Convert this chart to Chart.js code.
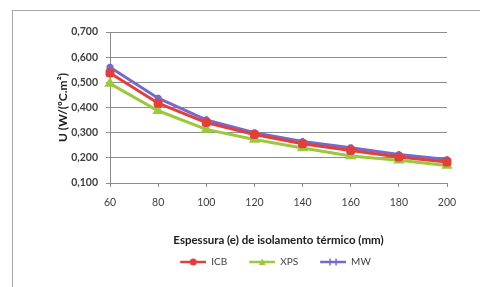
<!DOCTYPE html>
<html>
<head>
<meta charset="utf-8">
<script src="https://cdn.jsdelivr.net/npm/chart.js@4.4.1/dist/chart.umd.min.js"></script>
<style>
  html, body { margin: 0; padding: 0; background: #fff; }
  #wrap { position: relative; width: 480px; height: 287px; overflow: hidden; }
  #frame { position: absolute; left: 12px; top: 10px; width: 500px; height: 300px; border-top: 1px solid #a6a6a6; border-left: 1px solid #a6a6a6; }
  canvas { position: absolute; left: 0; top: 0; }
</style>
</head>
<body>
<div id="wrap">
  <div id="frame"></div>
  <canvas id="c" width="480" height="287"></canvas>
</div>
<script>
// espessura (mm)
const thickness = ['60', '80', '100', '120', '140', '160', '180', '200'];
const icb = [0.537, 0.417, 0.340, 0.293, 0.256, 0.229, 0.203, 0.183];
const xps = [0.495, 0.387, 0.313, 0.273, 0.239, 0.207, 0.190, 0.170];
const mw  = [0.560, 0.437, 0.351, 0.300, 0.265, 0.240, 0.213, 0.193];
const yTicks = [0.1, 0.2, 0.3, 0.4, 0.5, 0.6, 0.7];

const FONT = 'Lato, "Open Sans", sans-serif';
const RED = '#e0403c', GREEN = '#9cc83c', PURPLE = '#7a68c8';

// legend swatch: small blank gap on the left, then line + marker (excel style)
function legendIcon(color, style) {
  const cv = document.createElement('canvas');
  cv.width = 38; cv.height = 10;
  const g = cv.getContext('2d');
  g.strokeStyle = color; g.lineWidth = 2.5;
  g.beginPath(); g.moveTo(12, 5); g.lineTo(38, 5); g.stroke();
  g.fillStyle = color; g.lineWidth = 1.5;
  const cx = 25;
  if (style === 'rect') { g.beginPath(); g.arc(cx, 5, 3.5, 0, Math.PI * 2); g.fill(); }
  else if (style === 'triangle') { g.beginPath(); g.moveTo(cx, 1.5); g.lineTo(cx + 3.5, 8); g.lineTo(cx - 3.5, 8); g.closePath(); g.fill(); }
  else { g.beginPath(); g.moveTo(cx - 3, 1.5); g.lineTo(cx - 3, 8.5); g.moveTo(cx + 3, 1.5); g.lineTo(cx + 3, 8.5); g.stroke(); }
  return cv;
}

const series = [
  { label: 'ICB', data: icb, color: RED, marker: 'rectRounded', icon: 'rect' },
  { label: 'XPS', data: xps, color: GREEN, marker: 'triangle', icon: 'triangle' },
  { label: 'MW', data: mw, color: PURPLE, marker: 'star', icon: 'star' }
];

const shiftLegend = {
  id: 'shiftLegend',
  afterLayout: c => { c.legend.left += 24; c.legend.right += 24; }
};

new Chart(document.getElementById('c'), {
  type: 'line',
  data: {
    labels: thickness,
    datasets: series.map(s => ({
      label: s.label, data: s.data,
      borderColor: s.color, backgroundColor: s.color,
      borderWidth: 3, pointStyle: s.marker, pointRadius: 3.5,
      pointBorderColor: s.color, pointBackgroundColor: s.color,
      tension: 0
    }))
  },
  plugins: [shiftLegend],
  options: {
    responsive: false, animation: false,
    layout: { padding: { left: 44, right: 33, top: 32, bottom: 10 } },
    plugins: {
      tooltip: { enabled: false },
      legend: {
        position: 'bottom',
        labels: {
          font: { family: FONT, size: 10 }, color: '#404040',
          usePointStyle: true, pointStyleWidth: 38, padding: 10,
          generateLabels: chart => series.map((s, i) => ({
            text: s.label, pointStyle: legendIcon(s.color, s.icon),
            fontColor: '#404040', datasetIndex: i, lineWidth: 0, strokeStyle: 'transparent'
          }))
        }
      }
    },
    scales: {
      x: {
        offset: false,
        grid: { drawOnChartArea: false, drawTicks: true, tickLength: 4, color: '#8c8c8c' },
        border: { color: '#8c8c8c' },
        ticks: { font: { family: FONT, size: 10.5 }, color: '#404040', padding: 9, maxRotation: 0 },
        title: { display: true, text: 'Espessura (e) de isolamento térmico (mm)', font: { family: FONT, size: 11.5, weight: 'bold' }, color: '#202020', padding: { top: 10, bottom: 0 } },
        afterFit: s => { s.height = 64; }
      },
      y: {
        min: 0.1, max: 0.7,
        afterBuildTicks: s => { s.ticks = yTicks.map(v => ({ value: v })); },
        grid: { color: '#8c8c8c', tickLength: 4 },
        border: { color: '#8c8c8c' },
        ticks: { font: { family: FONT, size: 10.5, weight: 'bold' }, color: '#404040', padding: 8,
          callback: v => v.toFixed(3).replace('.', ',') },
        title: { display: true, text: 'U (W/(ºC.m²)', font: { family: FONT, size: 12, weight: 'bold' }, color: '#202020', padding: { top: 12, bottom: 4 } },
        afterFit: s => { s.width = 66; }
      }
    }
  }
});
</script>
</body>
</html>
